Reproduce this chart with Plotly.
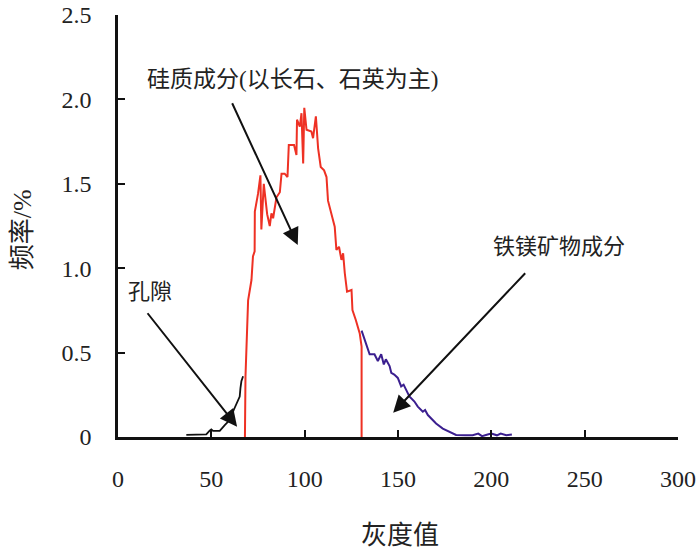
import plotly.graph_objects as go

# grey-level histogram, split by component
pore_x = [36.6, 40, 44, 47.3, 49.1, 50.0, 50.9, 54.5, 57.2, 59.8, 62.0, 64.3, 65.2, 65.6, 66.1, 67.0]
pore_y = [0.012, 0.012, 0.012, 0.016, 0.037, 0.045, 0.036, 0.037, 0.07, 0.10, 0.16, 0.22, 0.24, 0.29, 0.33, 0.36]

silica_x = [68.0, 68.3, 69.7, 71.5, 72.3, 73.2, 73.3, 75.0, 76.3, 76.8, 78.1, 78.6, 79.9, 81.3, 82.2,
            83.1, 84.0, 84.9, 86.7, 87.6, 89.3, 90.8, 91.5, 94.3, 95.6, 95.9, 97.4, 98.3, 99.2, 99.8,
            101.0, 103.6, 104.5, 106.0, 107.2, 108.6, 110.4, 111.7, 112.5, 114.4, 116.1, 117.0, 118.4,
            119.7, 120.6, 121.5, 122.7, 125.1, 125.6, 127.4, 129.5, 130.5, 130.5]
silica_y = [0.0, 0.36, 0.81, 0.93, 1.07, 1.10, 1.335, 1.44, 1.55, 1.23, 1.50, 1.44, 1.32, 1.25, 1.325,
            1.296, 1.374, 1.42, 1.45, 1.56, 1.56, 1.54, 1.73, 1.73, 1.67, 1.88, 1.838, 1.918, 1.62, 1.95,
            1.82, 1.81, 1.77, 1.90, 1.71, 1.60, 1.58, 1.54, 1.40, 1.325, 1.246, 1.108, 1.127,
            1.049, 1.088, 0.970, 0.861, 0.871, 0.752, 0.693, 0.614, 0.535, 0.0]

femg_x = [130.5, 133.0, 134.8, 137.4, 139.2, 141.0, 142.4, 143.5, 145.5, 146.4, 148.0, 149.9, 151.7,
          153.0, 154.4, 156.1, 158.8, 160.6, 163.3, 164.5, 166.0, 167.8, 170.4, 174.0, 177.5, 181.1,
          186, 190, 193, 195, 198, 200, 203, 205, 208, 211]
femg_y = [0.63, 0.55, 0.49, 0.49, 0.45, 0.49, 0.43, 0.46, 0.42, 0.38, 0.37, 0.35, 0.30,
          0.31, 0.28, 0.24, 0.21, 0.18, 0.15, 0.16, 0.13, 0.11, 0.08, 0.05, 0.03, 0.012,
          0.01, 0.01, 0.02, 0.005, 0.015, 0.02, 0.01, 0.02, 0.01, 0.015]

x_ticks = [0, 50, 100, 150, 200, 250, 300]
y_ticks = [0, 0.5, 1.0, 1.5, 2.0, 2.5]
y_ticktext = ["0", "0.5", "1.0", "1.5", "2.0", "2.5"]

FONT = "Times New Roman, Liberation Serif, Noto Sans CJK SC, serif"
TICKFONT = dict(family=FONT, size=24, color="#222222")

fig = go.Figure()
fig.add_trace(go.Scatter(x=pore_x, y=pore_y, mode="lines",
                         line=dict(color="#111111", width=1.8)))
fig.add_trace(go.Scatter(x=silica_x, y=silica_y, mode="lines",
                         line=dict(color="#ee3124", width=2)))
fig.add_trace(go.Scatter(x=femg_x, y=femg_y, mode="lines",
                         line=dict(color="#3b1f8f", width=2)))

# labels
labels = [
    ("硅质成分(以长石、石英为主)", 93.6, 2.115, 23),
    ("铁镁矿物成分", 236.2, 1.126, 22),
    ("孔隙", 17.0, 0.86, 22),
]
for txt, lx, ly, fs in labels:
    fig.add_annotation(x=lx, y=ly, text=txt, showarrow=False,
                       font=dict(family=FONT, size=fs, color="#222222"))

# arrows (tail -> head)
arrows = [
    ((60.8, 1.986), (96.3, 1.137)),
    ((218.9, 0.979), (147.4, 0.144)),
    ((15.2, 0.742), (63.8, 0.061)),
]
for (tx, ty), (hx, hy) in arrows:
    fig.add_annotation(x=hx, y=hy, ax=tx, ay=ty, axref="x", ayref="y",
                       text="", showarrow=True, arrowhead=2, arrowsize=1.7,
                       arrowwidth=2, arrowcolor="#111111")

# axis titles
fig.add_annotation(x=(400 - 118) / 560, y=0, xref="paper", yref="paper",
                   yshift=-98, yanchor="middle", text="灰度值", showarrow=False,
                   font=dict(family=FONT, size=26, color="#222222"))
fig.add_annotation(x=0, y=0.49, xref="paper", yref="paper", xshift=-96,
                   xanchor="center", textangle=-90, text="频率/%", showarrow=False,
                   font=dict(family=FONT, size=26, color="#222222"))

fig.update_layout(
    width=700, height=552,
    margin=dict(l=118, r=22, t=15, b=115),
    paper_bgcolor="white", plot_bgcolor="white",
    showlegend=False,
    font=dict(family=FONT, size=24, color="#222222"),
)
fig.update_xaxes(
    range=[0, 300], tickvals=x_ticks, ticks="inside", ticklen=7, tickwidth=2,
    tickcolor="#111111", showline=True, linewidth=2.5, linecolor="#111111",
    showgrid=False, zeroline=False, ticklabelstandoff=18, automargin=False,
    tickfont=TICKFONT,
)
fig.update_yaxes(
    range=[0, 2.5], tickvals=y_ticks, ticktext=y_ticktext, ticks="inside",
    ticklen=7, tickwidth=2, tickcolor="#111111", showline=True, linewidth=2.5,
    linecolor="#111111", showgrid=False, zeroline=False, ticklabelstandoff=19,
    automargin=False, tickfont=TICKFONT,
)

# page body has a default margin; drop it so the figure fills the window
fig.write_html("out.html", config={"displayModeBar": False},
               post_script="document.body.style.margin = '0';")
